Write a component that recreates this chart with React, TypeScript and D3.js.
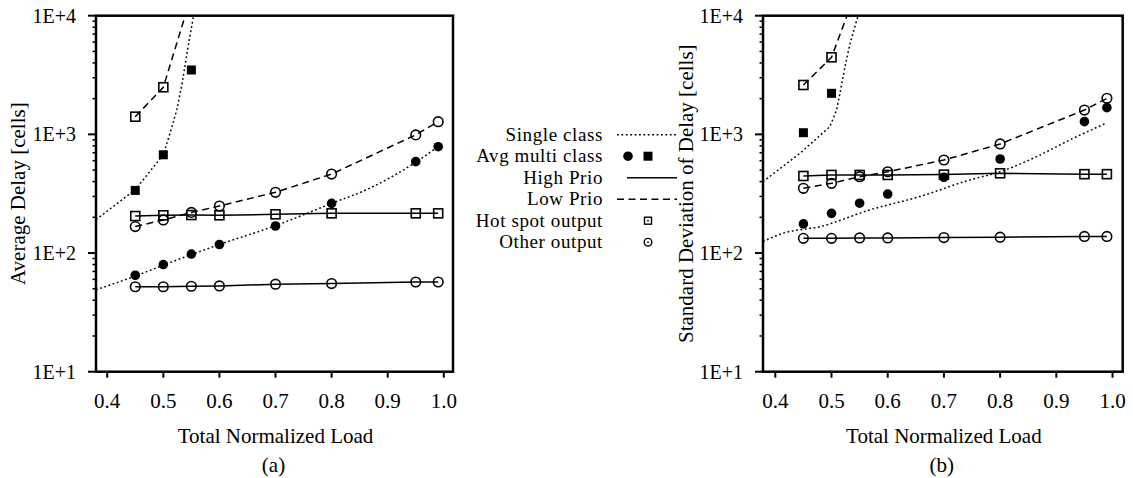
import React from 'react';
import * as d3 from 'd3';

// ---------- data ----------
const loads = [0.45, 0.5, 0.55, 0.6, 0.7, 0.8, 0.95, 0.99];
const xTicks = [0.4, 0.5, 0.6, 0.7, 0.8, 0.9, 1.0];
const yTicks = [10, 100, 1000, 10000];
const yTickLabels = ['1E+1', '1E+2', '1E+3', '1E+4'];

// (a) Average delay
const aHighHot = [205, 208, 209, 208, 212, 216, 216, 216];
const aHighOther = [52, 52, 52.5, 52.8, 54.6, 55.3, 57, 57];
const aLowOther = [167, 190, 220, 249, 325, 463, 990, 1279];
const aAvgOther = [65, 80, 98, 118, 169, 262, 589, 787];
const aLowHotX = [0.45, 0.5, 0.545];
const aLowHot = [1409, 2495, 12400];
const aAvgHotX = [0.45, 0.5, 0.55];
const aAvgHot = [337, 673, 3487];
const aSingleOtherX = [0.38, 0.45, 0.5, 0.55, 0.6, 0.7, 0.8, 0.868, 0.95, 0.99];
const aSingleOther = [49, 64, 79, 97, 118, 170, 262, 352, 583, 790];
const aSingleHotX = [0.38, 0.45, 0.5, 0.512, 0.524, 0.533, 0.545, 0.554, 0.56];
const aSingleHot = [191, 342, 673, 1023, 1607, 2600, 5800, 10000, 14000];

// (b) Standard deviation of delay
const bHighHot = [446, 455, 455, 455, 458, 470, 462, 462];
const bHighOther = [133, 133, 134, 134, 135, 136, 138, 138];
const bLowOther = [351, 387, 440, 484, 608, 830, 1603, 2013];
const bAvgOther = [176, 216, 263, 314, 435, 620, 1280, 1679];
const bLowHotX = [0.45, 0.5, 0.535];
const bLowHot = [2606, 4460, 12400];
const bAvgHotX = [0.45, 0.5];
const bAvgHot = [1033, 2218];
const bSingleOtherX = [0.378, 0.414, 0.48, 0.568, 0.657, 0.746, 0.8, 0.865, 0.924, 0.988];
const bSingleOther = [125, 147, 167, 231, 299, 413, 484, 649, 897, 1239];
const bSingleHotX = [0.378, 0.444, 0.497, 0.509, 0.515, 0.524, 0.533, 0.545, 0.553, 0.56];
const bSingleHot = [399, 693, 1161, 1603, 2218, 3715, 5850, 9200, 12000, 16000];

const legendLabels = ['Single class', 'Avg multi class', 'High Prio', 'Low Prio', 'Hot spot output', 'Other output'];

// ---------- styling ----------
const FONT = '"Liberation Serif", "Times New Roman", serif';
const DOT = '1.8,2.6';
const DASH = '7,4.5';
const LW = 1.5;

type Series = {
  xs: number[];
  ys: number[];
  dash?: string;
  marker?: 'square' | 'circle' | 'fsquare' | 'fcircle';
  line?: boolean;
  smooth?: boolean;
};

function zip(xs: number[], ys: number[]): [number, number][] {
  return xs.map((x, i) => [x, ys[i]] as [number, number]);
}

function Marker({ kind, cx, cy }: { kind: string; cx: number; cy: number }) {
  if (kind === 'square')
    return <rect x={cx - 4.5} y={cy - 4.5} width={9} height={9} fill="none" stroke="#000" strokeWidth={1.6} />;
  if (kind === 'circle')
    return <circle cx={cx} cy={cy} r={4.8} fill="none" stroke="#000" strokeWidth={1.6} />;
  if (kind === 'fsquare')
    return <rect x={cx - 4.5} y={cy - 4.5} width={9} height={9} fill="#000" />;
  return <circle cx={cx} cy={cy} r={4.8} fill="#000" />;
}

function Panel({
  id, x0, x1, xDomain, series, yTitle, yTitleX, tag,
}: {
  id: string; x0: number; x1: number; xDomain: [number, number];
  series: Series[]; yTitle: string; yTitleX: number; tag: string;
}) {
  const y0 = 15.7, y1 = 371.7;
  const x = d3.scaleLinear().domain(xDomain).range([x0, x1]);
  const y = d3.scaleLog().domain([10, 10000]).range([y1, y0]);
  const minor: number[] = [];
  [10, 100, 1000].forEach((d) => { for (let k = 2; k <= 9; k++) minor.push(d * k); });
  const cx = (x0 + x1) / 2;

  return (
    <g>
      <defs>
        <clipPath id={`clip-${id}`}>
          <rect x={x0} y={y0} width={x1 - x0} height={y1 - y0} />
        </clipPath>
      </defs>
      <g clipPath={`url(#clip-${id})`}>
        {series.filter((s) => s.line !== false).map((s, i) => {
          const gen = d3.line<[number, number]>()
            .x((d) => x(d[0]))
            .y((d) => y(d[1]))
            .curve(s.smooth ? d3.curveMonotoneX : d3.curveLinear);
          return (
            <path key={i} d={gen(zip(s.xs, s.ys)) || ''} fill="none" stroke="#000"
              strokeWidth={LW} strokeDasharray={s.dash} />
          );
        })}
      </g>
      {series.filter((s) => s.marker).map((s, i) => (
        <g key={i}>
          {s.xs.map((xv, j) => (
            <Marker key={j} kind={s.marker as string} cx={x(xv)} cy={y(s.ys[j])} />
          ))}
        </g>
      ))}
      {/* frame */}
      <rect x={x0} y={y0} width={x1 - x0} height={y1 - y0} fill="none" stroke="#000" strokeWidth={2.5} />
      {/* y ticks */}
      {yTicks.map((t, i) => (
        <g key={t}>
          <line x1={x0 - 8} x2={x0} y1={y(t)} y2={y(t)} stroke="#000" strokeWidth={2} />
          <text x={x0 - 20} y={y(t)} dy="0.35em" textAnchor="end" fontSize={20} fontFamily={FONT}>
            {yTickLabels[i]}
          </text>
        </g>
      ))}
      {minor.map((t) => (
        <line key={t} x1={x0 - 3.5} x2={x0} y1={y(t)} y2={y(t)} stroke="#000" strokeWidth={1.5} />
      ))}
      {/* x ticks */}
      {xTicks.map((t) => (
        <g key={t}>
          <line x1={x(t)} x2={x(t)} y1={y1} y2={y1 + 6} stroke="#000" strokeWidth={2} />
          <text x={x(t)} y={408} textAnchor="middle" fontSize={21} fontFamily={FONT}>
            {d3.format('.1f')(t)}
          </text>
        </g>
      ))}
      <text x={cx + 1} y={443} textAnchor="middle" fontSize={21} fontFamily={FONT}>Total Normalized Load</text>
      <text x={cx - 1} y={472} textAnchor="middle" fontSize={21} fontFamily={FONT}>{tag}</text>
      <text transform={`translate(${yTitleX},${(y0 + y1) / 2}) rotate(-90)`} textAnchor="middle"
        dominantBaseline="central" fontSize={21} fontFamily={FONT}>{yTitle}</text>
    </g>
  );
}

function Legend() {
  const rx = 603;
  const baselines = [140.7, 162.2, 183.7, 205.2, 226.7, 248.2];
  const sy = baselines.map((b) => b - 6);
  return (
    <g fontFamily={FONT} fontSize={19}>
      {legendLabels.map((l, i) => (
        <text key={l} x={rx} y={baselines[i]} textAnchor="end" letterSpacing={0.6}>{l}</text>
      ))}
      <line x1={617} x2={677} y1={sy[0]} y2={sy[0]} stroke="#000" strokeWidth={LW} strokeDasharray={DOT} />
      <circle cx={628} cy={sy[1]} r={4.8} fill="#000" />
      <rect x={643.5} y={sy[1] - 4.5} width={9} height={9} fill="#000" />
      <line x1={627} x2={677} y1={sy[2]} y2={sy[2]} stroke="#000" strokeWidth={LW} />
      <line x1={617} x2={677} y1={sy[3]} y2={sy[3]} stroke="#000" strokeWidth={LW} strokeDasharray={DASH} />
      <rect x={644.5} y={sy[4] - 3.5} width={7} height={7} fill="none" stroke="#000" strokeWidth={1.4} />
      <circle cx={648} cy={sy[4]} r={0.9} fill="#000" />
      <circle cx={648} cy={sy[5]} r={3.8} fill="none" stroke="#000" strokeWidth={1.4} />
      <circle cx={648} cy={sy[5]} r={0.9} fill="#000" />
    </g>
  );
}

export default function App() {
  const seriesA: Series[] = [
    { xs: aSingleOtherX, ys: aSingleOther, dash: DOT, smooth: true },
    { xs: aSingleHotX, ys: aSingleHot, dash: DOT },
    { xs: loads, ys: aHighHot, marker: 'square' },
    { xs: loads, ys: aHighOther, marker: 'circle' },
    { xs: loads, ys: aLowOther, dash: DASH, marker: 'circle' },
    { xs: aLowHotX, ys: aLowHot, dash: DASH },
    { xs: aLowHotX.slice(0, 2), ys: aLowHot.slice(0, 2), marker: 'square', line: false },
    { xs: loads, ys: aAvgOther, marker: 'fcircle', line: false },
    { xs: aAvgHotX, ys: aAvgHot, marker: 'fsquare', line: false },
  ];
  const seriesB: Series[] = [
    { xs: bSingleOtherX, ys: bSingleOther, dash: DOT, smooth: true },
    { xs: bSingleHotX, ys: bSingleHot, dash: DOT },
    { xs: loads, ys: bHighHot, marker: 'square' },
    { xs: loads, ys: bHighOther, marker: 'circle' },
    { xs: loads, ys: bLowOther, dash: DASH, marker: 'circle' },
    { xs: bLowHotX, ys: bLowHot, dash: DASH },
    { xs: bLowHotX.slice(0, 2), ys: bLowHot.slice(0, 2), marker: 'square', line: false },
    { xs: loads, ys: bAvgOther, marker: 'fcircle', line: false },
    { xs: bAvgHotX, ys: bAvgHot, marker: 'fsquare', line: false },
  ];
  return (
    <svg width={1133} height={478} viewBox="0 0 1133 478"
      style={{ position: 'absolute', left: 0, top: 0, background: '#fff' }}>
      <rect width={1133} height={478} fill="#fff" />
      <Panel id="a" x0={96} x1={453} xDomain={[0.38, 1.0164]} series={seriesA}
        yTitle="Average Delay [cells]" yTitleX={18} tag="(a)" />
      <Panel id="b" x0={763} x1={1122.7} xDomain={[0.3781, 1.0181]} series={seriesB}
        yTitle="Standard Deviation of Delay [cells]" yTitleX={686} tag="(b)" />
      <Legend />
    </svg>
  );
}
